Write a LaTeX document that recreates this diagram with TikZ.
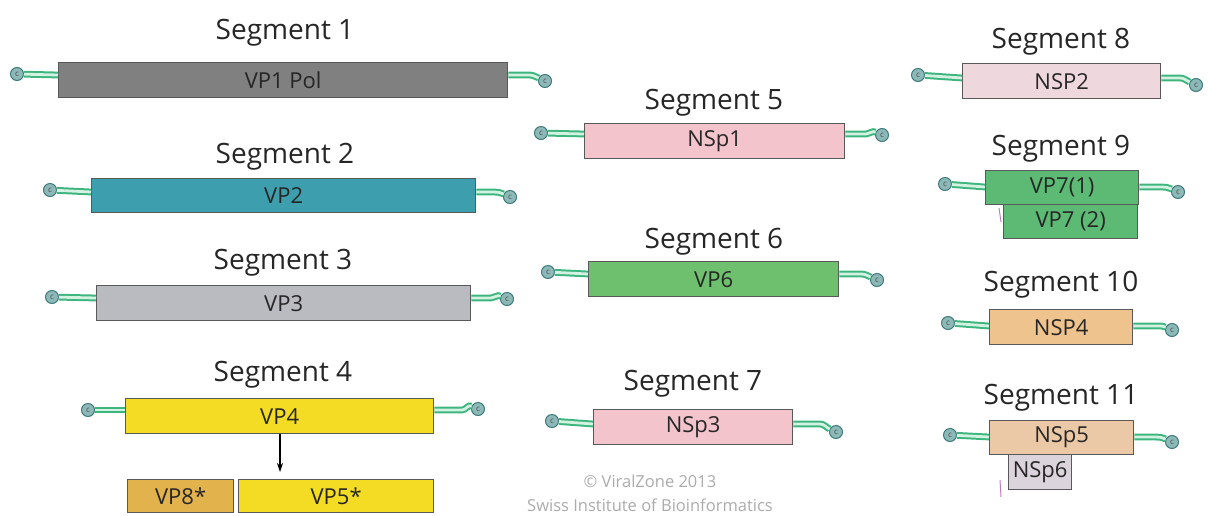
\documentclass[tikz,border=0pt]{standalone}
\usepackage{fontspec}
\usetikzlibrary{arrows.meta}
\setmainfont{Open Sans}
\definecolor{rnagreen}{HTML}{3DB57E}
\definecolor{rnalight}{HTML}{D4F2E2}
\definecolor{capfill}{HTML}{8DB8B8}
\definecolor{capdraw}{HTML}{3F7A7A}
\definecolor{cGray}{HTML}{808080}
\definecolor{cTeal}{HTML}{3D9FAE}
\definecolor{cLGray}{HTML}{B9BBC0}
\definecolor{cYellow}{HTML}{F4DB24}
\definecolor{cOrange}{HTML}{E2B24C}
\definecolor{cPink}{HTML}{F3C4CC}
\definecolor{cGreen}{HTML}{6FC06E}
\definecolor{cLPink}{HTML}{EED7DD}
\definecolor{cVPseven}{HTML}{5CBA74}
\definecolor{cTan}{HTML}{EEC38E}
\definecolor{cTanL}{HTML}{ECC9A6}
\definecolor{cLav}{HTML}{DCD4DC}
\tikzset{
  box/.style={draw=black!65, line width=1.3pt, inner sep=0pt, anchor=north west,
    font=\fontsize{22}{24}\selectfont, text=black!85},
  ttl/.style={font=\fontsize{28}{32}\selectfont, text=black!85, inner sep=0pt},
  capc/.style={circle, draw=capdraw, line width=1pt, fill=capfill, minimum size=13pt,
    inner sep=0pt, font=\fontsize{8}{8}\selectfont, text=black!70},
  rna/.style={draw=rnagreen, double=rnalight, double distance=2.8pt, line width=2pt},
  note/.style={font=\fontsize{16.5}{18}\selectfont, text=black!33, inner sep=0pt}
}
% #1 box name, #2 left cap x, #3 cap y left, #4 line y, #5 right cap x, #6 right cap y
\newcommand\segends[6]{%
  \node[capc] (#1l) at (#2,#3) {c};
  \node[capc] (#1r) at (#5,#6) {c};
  \coordinate (#1y) at (#2,#4);
  \coordinate (#1k) at (#5-16,#4);
  \draw[rna] (#1l) -- (#1.west |- #1y);
  \draw[rna] (#1.east |- #1y) -- (#1k) to[out=0,in=155] (#1r);
}
\begin{document}
\begin{tikzpicture}[x=1pt,y=-1pt]
\useasboundingbox (0,0) rectangle (1208,515);

% titles
\node[ttl] (t1) at (285,33) {Segment 1};
\node[ttl] (t2) at (285,157) {Segment 2};
\node[ttl] (t3) at (283,263) {Segment 3};
\node[ttl] (t4) at (283,375) {Segment 4};
\node[ttl] (t5) at (714,103) {Segment 5};
\node[ttl] (t6) at (714,242) {Segment 6};
\node[ttl] (t7) at (693,384) {Segment 7};
\node[ttl] (t8) at (1061,42) {Segment 8};
\node[ttl] (t9) at (1061,149) {Segment 9};
\node[ttl] (t10) at (1061,285) {Segment 10};
\node[ttl] (t11) at (1061,398) {Segment 11};

% boxes
\node[box, fill=cGray, minimum width=449pt, minimum height=35pt] (b1) at (58,62) {VP1 Pol};
\node[box, fill=cTeal, minimum width=384pt, minimum height=34pt] (b2) at (91,178) {VP2};
\node[box, fill=cLGray, minimum width=374pt, minimum height=35pt] (b3) at (96,285) {VP3};
\node[box, fill=cYellow, minimum width=308pt, minimum height=35pt] (b4) at (125,398) {VP4};
\node[box, fill=cOrange, minimum width=106pt, minimum height=33pt] (b4a) at (127,479) {VP8*};
\node[box, fill=cYellow, minimum width=195pt, minimum height=33pt] (b4b) at (238,479) {VP5*};
\node[box, fill=cPink, minimum width=260pt, minimum height=35pt] (b5) at (584,123) {NSp1};
\node[box, fill=cGreen, minimum width=250pt, minimum height=35pt] (b6) at (588,261) {VP6};
\node[box, fill=cPink, minimum width=199pt, minimum height=35pt] (b7) at (593,409) {NSp3};
\node[box, fill=cLPink, minimum width=198pt, minimum height=35pt] (b8) at (962,63) {NSP2};
\node[box, fill=cVPseven, minimum width=134pt, minimum height=34pt] (b9b) at (1003,204) {VP7 (2)};
\node[box, fill=cVPseven, minimum width=153pt, minimum height=34pt] (b9) at (985,170) {VP7(1)};
\node[box, fill=cTan, minimum width=143pt, minimum height=35pt] (b10) at (989,309) {NSP4};
\node[box, fill=cLav, minimum width=63pt, minimum height=35pt] (b11b) at (1008,454) {NSp6};
\node[box, fill=cTanL, minimum width=144pt, minimum height=34pt] (b11) at (989,420) {NSp5};

% arrow VP4 -> products
\coordinate (ar) at (280,472);
\draw[-{Stealth[length=9pt,width=6pt]}, line width=1.2pt] (b4.south -| ar) -- (ar);

% RNA ends with caps
\segends{b1}{17}{74}{75}{545}{81}
\segends{b2}{50}{190}{192}{510}{197}
\segends{b3}{52}{297}{298}{507}{299}
\segends{b4}{88}{410}{410}{478}{409}
\segends{b5}{541}{133}{134}{882}{135}
\segends{b6}{548}{272}{274}{877}{280}
\segends{b7}{552}{421}{424}{836}{432}
\segends{b8}{918}{75}{78}{1196}{85}
\segends{b9}{945}{184}{187}{1178}{192}
\segends{b10}{948}{323}{326}{1172}{330}
\segends{b11}{950}{435}{437}{1172}{442}

% small marks
\draw[violet!50, line width=1pt] (999,208) -- (1001,222);
\draw[violet!50, line width=1pt] (1000,480) -- (1001,497);

% credit
\node[note] (n1) at (650,481) {© ViralZone 2013};
\node[note] (n2) at (650,505) {Swiss Institute of Bioinformatics};
\end{tikzpicture}
\end{document}
